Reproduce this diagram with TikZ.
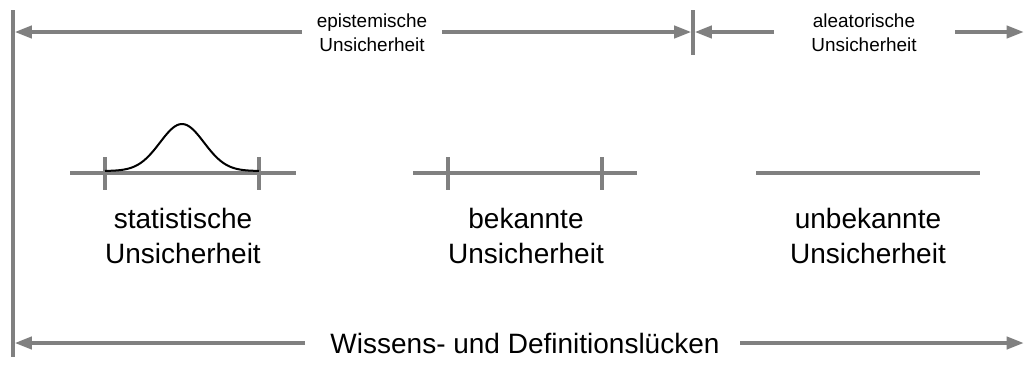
\documentclass[tikz,border=0pt]{standalone}
\usepackage{fontspec}
\setmainfont{Liberation Sans}
\usetikzlibrary{arrows.meta}

\tikzset{
  grayline/.style={draw={rgb,255:red,128;green,128;blue,128}, line width=3pt},
  grayarrow/.style={grayline, -{Triangle[length=13pt,width=9pt]}},
  smalltext/.style={inner sep=0.75pt, align=center, font=\fontsize{14.2}{18}\selectfont},
  bigtext/.style={inner sep=0.75pt, align=center, font=\fontsize{21}{26}\selectfont},
}

\begin{document}
\begin{tikzpicture}[x=0.75pt,y=0.75pt,yscale=-1,xscale=1]
	\useasboundingbox (0,0) rectangle (1024,365);

	%Straight Lines: left border and border between the two top ranges
	\coordinate (lefttop) at (13,10);
	\coordinate (leftbot) at (13,357);
	\coordinate (midtop) at (693,10);
	\coordinate (midbot) at (693,55);
	\draw [grayline] (lefttop) -- (leftbot);
	\draw [grayline] (midtop) -- (midbot);

	% Text Node
	\node (epi) [smalltext] at (372,33) {epistemische\\Unsicherheit};
	% Text Node
	\node (alea) [smalltext] at (864,33) {aleatorische\\Unsicherheit};
	% Text Node
	\node (wdl) [bigtext] at (525,343) {Wissens- und Definitionslücken};

	%Straight Lines with arrows
	\coordinate (epiL) at (14.5,32);
	\coordinate (epiR) at (691.5,32);
	\coordinate (aleaL) at (694.5,32);
	\coordinate (aleaR) at (1024,32);
	\coordinate (wdlL) at (14.5,343);
	\coordinate (wdlR) at (1024,343);
	\coordinate (epiA) at (302,32);
	\coordinate (epiB) at (442,32);
	\coordinate (aleaA) at (774,32);
	\coordinate (aleaB) at (955,32);
	\coordinate (wdlA) at (305,343);
	\coordinate (wdlB) at (740,343);
	\draw [grayarrow] (epiA) -- (epiL);
	\draw [grayarrow] (epiB) -- (epiR);
	\draw [grayarrow] (aleaA) -- (aleaL);
	\draw [grayarrow] (aleaB) -- (aleaR);
	\draw [grayarrow] (wdlA) -- (wdlL);
	\draw [grayarrow] (wdlB) -- (wdlR);

	%Straight Lines: the three ranges
	\draw [grayline] (70,173) -- (296,173);
	\draw [grayline] (105,157) -- (105,190);
	\draw [grayline] (259,157) -- (259,190);
	\draw [grayline] (413,173) -- (637,173);
	\draw [grayline] (448,157) -- (448,190);
	\draw [grayline] (602,157) -- (602,190);
	\draw [grayline] (756,173) -- (980,173);

	%Curve: normal density over the first range
	\draw [line width=1.5pt, line join=round] plot [domain=105:259, samples=80, smooth]
	  (\x, {171 - 47*exp(-((\x-182)^2)/(2*22^2))});

	% Text Node
	\node (stat) [bigtext] at (183,236) {statistische\\Unsicherheit};
	% Text Node
	\node (bek) [bigtext] at (526,236) {bekannte\\Unsicherheit};
	% Text Node
	\node (unbek) [bigtext] at (868,236) {unbekannte\\Unsicherheit};
\end{tikzpicture}
\end{document}
